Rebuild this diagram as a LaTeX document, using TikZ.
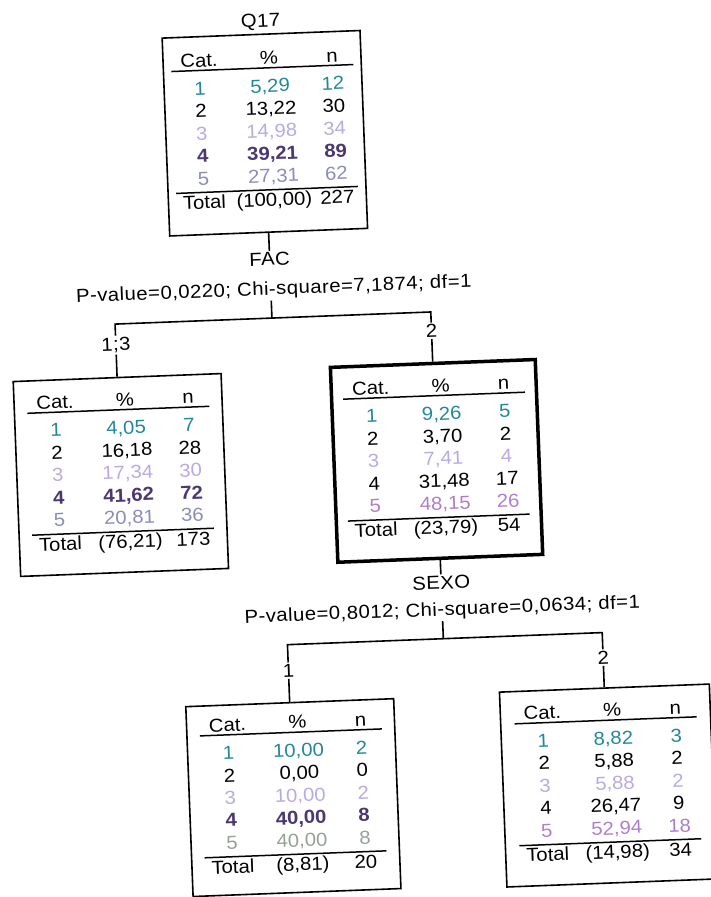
\documentclass[tikz,border=0pt]{standalone}
\usepackage{fontspec}
\setmainfont{Liberation Sans}[FakeStretch=1.08]
\newfontfamily\lblfont{Liberation Sans}[FakeStretch=1.08,LetterSpace=2.5]
\usepackage{array}
\usepackage{xcolor}
\usetikzlibrary{positioning}
\definecolor{catone}{RGB}{35,135,155}
\definecolor{catthree}{RGB}{185,170,225}
\definecolor{catfour}{RGB}{75,55,115}
\definecolor{catfive}{RGB}{140,140,185}
\definecolor{catpink}{RGB}{175,125,205}
\definecolor{catgrey}{RGB}{150,160,150}
\setlength{\arrayrulewidth}{1.5pt}
\setlength{\tabcolsep}{0pt}
\newcolumntype{C}[1]{w{c}{#1}}
% one row of a category table, all cells in one colour
\newcommand{\crow}[4]{\color{#1}#2 & \color{#1}#3 & \color{#1}#4}
\newcommand{\brow}[4]{\bfseries\color{#1}#2 & \bfseries\color{#1}#3 & \bfseries\color{#1}#4}
% category table of a tree node: five rows, then the total row
\newcommand{\cattab}[6]{%
  \parbox[c][180pt][t]{182pt}{\vspace*{5.5pt}%
  \begin{tabular}[t]{C{56pt}C{84pt}C{42pt}}
  Cat. & \% & n\\[-4pt]\hline\noalign{\vspace{8pt}}
  #1\\ #2\\ #3\\ #4\\ #5\\ \hline
  #6
  \end{tabular}}}
\tikzset{
  every node/.style={font=\fontsize{18.8}{22.5}\selectfont},
  box/.style={draw,line width=1.6pt,inner sep=0pt,minimum height=195pt},
  lbl/.style={inner sep=1.5pt,font=\fontsize{18.8}{22.5}\lblfont},
  edge/.style={line width=1.6pt}
}

\begin{document}
\begin{tikzpicture}[x=1pt,y=-1pt]
\useasboundingbox (0,0) rectangle (710,897);
\begin{scope}[rotate around={2.2:(355,448)},transform shape]
% root
\node[lbl] (q17) at (277,19) {Q17};
\node[box,minimum width=198pt,minimum height=198pt] (root) at (277,130) {\cattab
  {\crow{catone}{1}{5,29}{12}}
  {\crow{black}{2}{13,22}{30}}
  {\crow{catthree}{3}{14,98}{34}}
  {\brow{catfour}{4}{39,21}{89}}
  {\crow{catfive}{5}{27,31}{62}}
  {Total & (100,00) & 227}};
\node[lbl] (fac) at (277,256) {FAC};
\node[lbl] (pv1) at (280,287) {P-value=0,0220; Chi-square=7,1874; df=1};
\coordinate (b1) at (277,315);
\node[lbl] (l13) at (120,336) {1;3};
\node[lbl] (l2) at (436,334) {2};
% first split
\node[box,minimum width=208pt] (left) at (120,466) {\cattab
  {\crow{catone}{1}{4,05}{7}}
  {\crow{black}{2}{16,18}{28}}
  {\crow{catthree}{3}{17,34}{30}}
  {\brow{catfour}{4}{41,62}{72}}
  {\crow{catfive}{5}{20,81}{36}}
  {Total & (76,21) & 173}};
\node[box,line width=3.5pt,minimum width=205pt] (right) at (436,464) {\cattab
  {\crow{catone}{1}{9,26}{5}}
  {\crow{black}{2}{3,70}{2}}
  {\crow{catthree}{3}{7,41}{4}}
  {\crow{black}{4}{31,48}{17}}
  {\crow{catpink}{5}{48,15}{26}}
  {Total & (23,79) & 54}};
\node[lbl] (sexo) at (436,586) {SEXO};
\node[lbl] (pv2) at (436,614) {P-value=0,8012; Chi-square=0,0634; df=1};
\coordinate (b2) at (436,642);
\node[lbl] (s1) at (280,668) {1};
\node[lbl] (s2) at (595,667) {2};
% second split
\node[box,minimum width=208pt,minimum height=190pt] (bl) at (280,795) {\cattab
  {\crow{catone}{1}{10,00}{2}}
  {\crow{black}{2}{0,00}{0}}
  {\crow{catthree}{3}{10,00}{2}}
  {\brow{catfour}{4}{40,00}{8}}
  {\crow{catgrey}{5}{40,00}{8}}
  {Total & (8,81) & 20}};
\node[box,minimum width=210pt] (br) at (595,795) {\cattab
  {\crow{catone}{1}{8,82}{3}}
  {\crow{black}{2}{5,88}{2}}
  {\crow{catthree}{3}{5,88}{2}}
  {\crow{black}{4}{26,47}{9}}
  {\crow{catpink}{5}{52,94}{18}}
  {Total & (14,98) & 34}};
% connectors
\draw[edge] (root) -- (fac);
\draw[edge] (pv1.south -| b1) -- (b1);
\draw[edge] (l13) |- (b1) -| (l2);
\draw[edge] (l13) -- (left);
\draw[edge] (l2) -- (right);
\draw[edge] (right) -- (sexo);
\draw[edge] (pv2) -- (b2);
\draw[edge] (s1) |- (b2) -| (s2);
\draw[edge] (s1) -- (bl);
\draw[edge] (s2) -- (br);
\end{scope}
\end{tikzpicture}
\end{document}
